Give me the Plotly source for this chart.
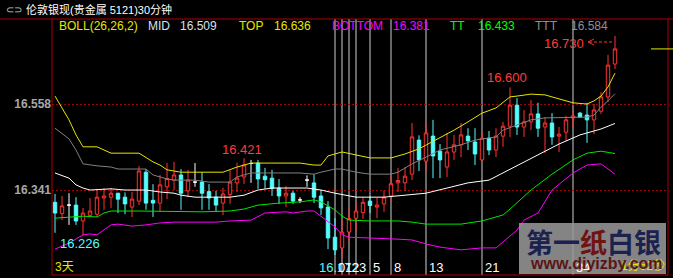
import plotly.graph_objects as go

# ---------------- data ----------------
opens = [16.310,16.282,16.303,16.303,16.263,16.277,16.280,16.321,16.323,16.333,
         16.323,16.298,16.313,16.386,16.315,16.308,16.349,16.366,16.379,16.339,
         16.361,16.361,16.337,16.323,16.308,16.330,16.359,16.374,16.408,16.409,
         16.376,16.371,16.346,16.326,16.333,16.316,16.366,16.359,16.326,16.298,
         16.222,16.195,16.235,16.270,16.284,16.313,16.298,16.306,16.326,16.359,
         16.359,16.381,16.467,16.414,16.477,16.439,16.399,16.437,16.455,16.477,
         16.462,16.417,16.472,16.442,16.477,16.502,16.555,16.500,16.513,16.533,
         16.500,16.510,16.477,16.487,16.523,16.535,16.530,16.518,16.540,16.576,
         16.659]
highs = [16.331,16.326,16.333,16.323,16.296,16.321,16.344,16.346,16.346,16.333,
         16.335,16.336,16.402,16.394,16.356,16.379,16.409,16.412,16.394,16.392,
         16.409,16.386,16.356,16.339,16.347,16.392,16.410,16.421,16.417,16.417,
         16.397,16.392,16.369,16.351,16.339,16.323,16.378,16.381,16.341,16.313,
         16.270,16.265,16.298,16.311,16.323,16.326,16.321,16.340,16.378,16.397,
         16.399,16.510,16.479,16.508,16.518,16.457,16.485,16.480,16.510,16.497,
         16.497,16.487,16.490,16.497,16.513,16.600,16.573,16.543,16.568,16.561,
         16.525,16.535,16.500,16.528,16.543,16.538,16.561,16.558,16.588,16.682,
         16.730]
lows = [16.233,16.265,16.253,16.253,16.226,16.273,16.273,16.291,16.296,16.283,
        16.280,16.273,16.303,16.291,16.273,16.286,16.318,16.341,16.291,16.323,
        16.349,16.291,16.291,16.286,16.278,16.306,16.336,16.356,16.359,16.344,
        16.344,16.326,16.306,16.298,16.306,16.308,16.349,16.308,16.278,16.192,
        16.177,16.172,16.210,16.235,16.268,16.283,16.270,16.286,16.313,16.336,
        16.339,16.366,16.389,16.386,16.371,16.371,16.374,16.417,16.424,16.442,
        16.404,16.412,16.429,16.424,16.450,16.475,16.480,16.475,16.492,16.475,
        16.434,16.455,16.437,16.465,16.500,16.523,16.460,16.482,16.533,16.563,
        16.646]
closes = [16.283,16.301,16.303,16.263,16.283,16.288,16.323,16.326,16.333,16.318,
          16.306,16.318,16.389,16.308,16.308,16.354,16.370,16.379,16.333,16.366,
          16.361,16.333,16.321,16.303,16.331,16.361,16.371,16.404,16.408,16.369,
          16.367,16.345,16.326,16.333,16.313,16.316,16.366,16.323,16.296,16.220,
          16.190,16.235,16.269,16.288,16.310,16.302,16.303,16.323,16.357,16.365,
          16.376,16.475,16.417,16.485,16.427,16.417,16.437,16.455,16.480,16.465,
          16.432,16.472,16.442,16.477,16.502,16.555,16.500,16.513,16.533,16.497,
          16.510,16.475,16.482,16.518,16.528,16.525,16.518,16.543,16.576,16.656,
          16.697]

top_idx = [0,1,2,3,4,6,8,12,14,15,16,18,24,26,28,35,37,38,39,41,43,45,48,50,52,
           55,57,59,61,63,64,65,66,68,70,72,74,76,77,78,79,80]
top_val = [16.578,16.548,16.518,16.480,16.450,16.450,16.434,16.434,16.412,16.404,
           16.392,16.386,16.386,16.399,16.409,16.409,16.404,16.404,16.427,16.437,
           16.429,16.422,16.422,16.432,16.445,16.472,16.492,16.513,16.535,16.548,
           16.563,16.576,16.578,16.583,16.581,16.571,16.561,16.558,16.566,16.578,
           16.601,16.636]
ttt_idx = [0,2,3,4,6,8,9,13,14,16,17,20,22,25,26,28,35,37,38,40,41,43,45,48,49,
           51,53,55,58,60,63,64,66,68,70,74,76,77,78,79,80]
ttt_val = [16.497,16.470,16.442,16.407,16.402,16.399,16.394,16.394,16.379,16.369,
           16.366,16.366,16.361,16.361,16.374,16.384,16.384,16.381,16.386,16.394,
           16.394,16.386,16.381,16.381,16.386,16.407,16.424,16.442,16.455,16.467,
           16.475,16.492,16.505,16.518,16.523,16.525,16.525,16.530,16.550,16.566,
           16.584]
mid_idx = [0,2,3,4,5,8,10,13,15,17,18,20,25,27,29,31,36,38,40,43,47,50,53,56,59,
           62,64,66,68,70,72,75,78,80]
mid_val = [16.384,16.371,16.354,16.346,16.341,16.344,16.341,16.341,16.336,16.333,
           16.328,16.323,16.323,16.328,16.341,16.346,16.346,16.341,16.333,16.323,
           16.323,16.328,16.333,16.346,16.359,16.366,16.384,16.402,16.422,16.439,
           16.457,16.480,16.495,16.509]
tt_idx = [0,2,4,6,7,8,12,21,25,27,29,32,35,37,38,40,41,42,45,49,51,53,58,61,64,
          65,68,71,74,76,78,80]
tt_val = [16.270,16.273,16.275,16.273,16.283,16.288,16.288,16.286,16.288,16.293,
          16.303,16.308,16.311,16.316,16.311,16.291,16.275,16.265,16.263,16.263,
          16.260,16.255,16.255,16.263,16.278,16.293,16.341,16.381,16.417,16.434,
          16.439,16.433]
bot_idx = [0,2,4,5,6,7,8,9,11,13,15,17,23,25,28,30,33,34,36,37,38,40,41,42,49,
           51,53,55,58,61,63,64,66,67,69,71,74,76,78,80]
bot_val = [16.192,16.207,16.228,16.230,16.228,16.240,16.253,16.255,16.250,16.253,
           16.258,16.260,16.260,16.263,16.265,16.283,16.286,16.283,16.288,16.288,
           16.275,16.248,16.228,16.222,16.217,16.215,16.205,16.197,16.190,16.195,
           16.195,16.210,16.240,16.265,16.283,16.341,16.384,16.404,16.407,16.381]

y_ticks = [16.341, 16.558]
fib_idx = [40, 41, 42, 43, 45, 48, 53, 61, 74]
fib_lbl = ["0", "1", "2", "3", "5", "8", "13", "21", "34"]
header = [("BOLL(26,26,2)", "#e6e600"), ("MID", "#d8e0f0"), ("16.509", "#d8e0f0"),
          ("TOP", "#e6e600"), ("16.636", "#e6e600"), ("BOTTOM", "#ff00ff"),
          ("16.381", "#ff00ff"), ("TT", "#00ff00"), ("16.433", "#00ff00"),
          ("TTT", "#909090"), ("16.584", "#909090")]
header_x = [57, 146, 178, 237, 272, 330, 391, 448, 476, 533, 569]

# ---------------- geometry helpers (layout only) ----------------
W, H = 673, 278
L, R, T, B = 52, 668, 19, 275
def px(x):
    return (x - L) / (R - L)
def py(y):
    return (B - y) / (B - T)

RED = "#ff3232"
CYAN = "#54fcfc"
n = len(opens)
x_all = list(range(n))
up = [i for i in x_all if closes[i] > opens[i]]
dn = [i for i in x_all if closes[i] < opens[i]]
dj = [i for i in x_all if closes[i] == opens[i]]

def sub(arr, ids):
    return [arr[i] for i in ids]

fig = go.Figure()
for xs, ys, col in [(ttt_idx, ttt_val, "#808080"), (top_idx, top_val, "#e6e600"),
                    (mid_idx, mid_val, "#ffffff"), (tt_idx, tt_val, "#00e600"),
                    (bot_idx, bot_val, "#ff00ff")]:
    fig.add_trace(go.Scatter(x=xs, y=ys, mode="lines", line=dict(color=col, width=1),
                             hoverinfo="skip", showlegend=False))

def candle(ids, upc, upf, dnc, dnf):
    return go.Candlestick(x=ids, open=sub(opens, ids), high=sub(highs, ids),
                          low=sub(lows, ids), close=sub(closes, ids),
                          increasing=dict(line=dict(color=upc, width=1), fillcolor=upf),
                          decreasing=dict(line=dict(color=dnc, width=1), fillcolor=dnf),
                          whiskerwidth=0, showlegend=False, hoverinfo="skip")

fig.add_trace(candle(up, RED, "#000000", RED, "#000000"))
fig.add_trace(candle(dn, CYAN, CYAN, CYAN, CYAN))
fig.add_trace(candle(dj, "#ffffff", "#ffffff", "#ffffff", "#ffffff"))

shapes = []
# fib time lines
for fi in fib_idx:
    shapes.append(dict(type="line", xref="x", yref="paper", x0=fi, x1=fi, y0=0, y1=1,
                       line=dict(color="#d0d0d0", width=1), layer="below"))
# frame
DR = "#b00000"
shapes.append(dict(type="line", xref="paper", yref="paper", x0=px(0), x1=px(W), y0=1, y1=1,
                   line=dict(color=DR, width=1)))
shapes.append(dict(type="line", xref="paper", yref="paper", x0=0, x1=0, y0=0, y1=1,
                   line=dict(color=DR, width=1)))
shapes.append(dict(type="line", xref="paper", yref="paper", x0=0, x1=1, y0=0, y1=0,
                   line=dict(color=DR, width=1)))
shapes.append(dict(type="line", xref="paper", yref="paper", x0=1, x1=1, y0=0, y1=1,
                   line=dict(color=DR, width=1)))
# current price marker right
shapes.append(dict(type="line", xref="paper", yref="y", x0=px(651), x1=px(673),
                   y0=closes[-1], y1=closes[-1], line=dict(color="#e6e600", width=1)))
# dashed arrow for max
hx = n - 1
shapes.append(dict(type="line", xref="paper", yref="paper", x0=px(589), x1=px(612),
                   y0=py(42), y1=py(42), line=dict(color=RED, width=1, dash="3px,2px")))
shapes.append(dict(type="path", xref="paper", yref="paper",
                   path=f"M {px(594)},{py(39)} L {px(588)},{py(42)} L {px(594)},{py(45)}",
                   line=dict(color=RED, width=1)))
# watermark box
shapes.append(dict(type="rect", xref="paper", yref="paper", x0=px(519), x1=px(666),
                   y0=py(274), y1=py(223), fillcolor="rgba(150,150,150,0.88)",
                   line=dict(width=0), layer="above"))

ann = []
FONT = "Liberation Sans, Arial, sans-serif"
CJK = "Liberation Sans, Noto Sans CJK SC"
ann.append(dict(xref="paper", yref="paper", x=px(4), y=py(9), text="⊂⊃", showarrow=False,
                xanchor="left", yanchor="middle", font=dict(family=FONT, size=10, color="#c8c8c8")))
ann.append(dict(xref="paper", yref="paper", x=px(24), y=py(9), text="伦敦银现(贵金属 5121)30分钟",
                showarrow=False, xanchor="left", yanchor="middle",
                font=dict(family=CJK, size=11, color="#ffffff")))
for (txt, col), hxp in zip(header, header_x):
    ann.append(dict(xref="paper", yref="paper", x=px(hxp), y=py(26), text=txt, showarrow=False,
                    xanchor="left", yanchor="middle", font=dict(family=FONT, size=12, color=col)))
# extreme price labels
lab_font = dict(family=FONT, size=13, color="#ff3c3c")
i_h1 = 27
ann.append(dict(x=i_h1, y=highs[i_h1], text=f"{highs[i_h1]:.3f}", showarrow=False,
                yshift=9, xshift=-2, font=lab_font))
i_h2 = 65
ann.append(dict(x=i_h2, y=highs[i_h2], text=f"{highs[i_h2]:.3f}", showarrow=False,
                yshift=10, xshift=-3, font=lab_font))
ann.append(dict(x=hx, y=highs[hx], text=f"{highs[hx]:.3f}", showarrow=False,
                xanchor="right", xshift=-29, yshift=-8, font=lab_font))
i_l1 = 4
ann.append(dict(x=i_l1, y=lows[i_l1], text=f"{lows[i_l1]:.3f}", showarrow=False,
                yshift=-8, xshift=-3, font=dict(family=FONT, size=13, color=CYAN)))
i_l2 = 41
ann.append(dict(x=i_l2, y=lows[i_l2], text=f"{lows[i_l2]:.3f}", showarrow=False,
                yshift=-10, xshift=-3, font=dict(family=FONT, size=13, color=CYAN)))
# fib labels
for fi, lb in zip(fib_idx, fib_lbl):
    ann.append(dict(x=fi, xref="x", yref="paper", y=py(267), text=lb, showarrow=False,
                    xanchor="left", yanchor="middle", xshift=1,
                    font=dict(family=FONT, size=13, color="#ffffff")))
ann.append(dict(xref="paper", yref="paper", x=px(53), y=py(267), text="3天", showarrow=False,
                xanchor="left", yanchor="middle", font=dict(family=CJK, size=12, color="#e6e600")))
ann.append(dict(xref="paper", yref="paper", x=px(667), y=py(266), text="1分52秒", showarrow=False,
                xanchor="right", yanchor="middle", font=dict(family=CJK, size=12, color="#e6e600")))
# watermark text
ann.append(dict(xref="paper", yref="paper", x=px(593), y=py(241),
                text='<b><span style="color:#1c2250">第一</span><span style="color:#6e1414">纸</span><span style="color:#1c2250">白银</span></b>',
                showarrow=False, xanchor="center", yanchor="middle",
                font=dict(family="Noto Sans CJK SC", size=27, color="#1c2250")))
ann.append(dict(xref="paper", yref="paper", x=px(596), y=py(263), text="<b>www.diyizby.com</b>",
                showarrow=False, xanchor="center", yanchor="middle",
                font=dict(family=FONT, size=16, color="#5a1616")))

fig.update_layout(
    width=W, height=H, margin=dict(l=L, r=W - R, t=T, b=H - B),
    paper_bgcolor="#000000", plot_bgcolor="#000000",
    showlegend=False, hovermode=False,
    xaxis=dict(range=[(L - 55) / 7, (R - 55) / 7], showgrid=False, zeroline=False,
               showticklabels=False, rangeslider=dict(visible=False), fixedrange=True),
    yaxis=dict(range=[16.1266, 16.7725], tickvals=y_ticks, ticktext=[f"{v:.3f}" for v in y_ticks],
               showgrid=True, gridcolor="#a00000", griddash="2px,2px", gridwidth=1,
               zeroline=False, ticks="", fixedrange=True,
               tickfont=dict(family=FONT, size=12, color="#a8a8a8", weight="bold")),
    shapes=shapes, annotations=ann,
)
fig.write_html("out.html")
